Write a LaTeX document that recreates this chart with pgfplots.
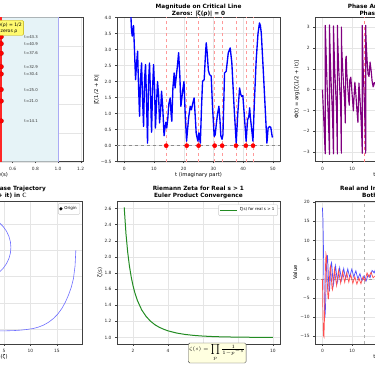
\documentclass[border=0pt]{standalone}
\usepackage{pgfplots}
\pgfplotsset{compat=1.18}
\usepackage{fontspec}
\setmainfont{DejaVu Sans}
\definecolor{mpurple}{RGB}{128,0,128}
\definecolor{mgreen}{RGB}{34,139,34}
\definecolor{stripc}{RGB}{230,243,247}
\definecolor{edgeblue}{RGB}{170,170,245}
\definecolor{spiral}{RGB}{110,110,255}
\definecolor{lblue}{RGB}{77,77,255}
\definecolor{lred}{RGB}{255,77,77}
\definecolor{boxyellow}{RGB}{255,250,110}
\definecolor{boxedge}{RGB}{190,170,0}
\definecolor{paleyellow}{RGB}{255,255,224}
\pgfplotsset{
 base/.style={
  scale only axis, width=163.5bp,
  axis line style={black!75, line width=0.45bp},
  every tick/.style={black!75, line width=0.4bp},
  tick align=outside, major tick length=1.8bp,
  xtick pos=left, ytick pos=left,
  grid=major, major grid style={black!10, line width=0.35bp},
  tick label style={font=\fontsize{4.4}{5.2}\selectfont, text=black!85},
  label style={font=\fontsize{5.3}{6.3}\selectfont},
  xlabel style={at={(axis description cs:0.5,0)}, anchor=center, yshift=-13.4bp},
 },
 toprow/.style={base, height=144.2bp},
 botrow/.style={base, height=143bp},
}
\tikzset{ttl/.style={font=\fontsize{5.8}{6.8}\selectfont\bfseries, inner sep=0pt}}
\begin{document}
\begin{tikzpicture}[x=1bp,y=1bp]
\path[use as bounding box] (0,0) rectangle (375,366);
\clip (0,0) rectangle (375,366);

% ---------------- top left ----------------
\begin{axis}[toprow, at={(-80.5bp,204.3bp)}, anchor=south west,
  xmin=-0.22, xmax=1.22, ymin=0, ymax=50,
  xtick={0,0.2,0.4,0.6,0.8,1.0,1.2}, xticklabels={0.0,0.2,0.4,0.6,0.8,1.0,1.2},
  ytick={0,10,20,30,40,50}, yticklabels={0,10,20,30,40,50},
  xlabel={Re(s)}, ylabel={Im(s)}]
\addplot[draw=none, fill=stripc] coordinates {(0.5,0) (1.0,0) (1.0,50) (0.5,50)} \closedcycle;
\addplot[edgeblue, line width=0.8bp] coordinates {(1.0,0) (1.0,50)};
\addplot[red!85, line width=2.4bp] coordinates {(0.5,0) (0.5,50)};
\addplot[only marks, mark=*, mark size=2.3bp, mark options={fill=red, draw=red!80!black, line width=0.3bp}]
 coordinates {(0.5,14.1347) (0.5,21.0220) (0.5,25.0109) (0.5,30.4249) (0.5,32.9351) (0.5,37.5862) (0.5,40.9187) (0.5,43.3271)};
\end{axis}
\begin{scope}[font=\fontsize{3.9}{4.6}\selectfont, text=black!80]
\node[anchor=west, inner sep=0] at (24.3, 366-121) {t=14.1};
\node[anchor=west, inner sep=0] at (24.3, 366-101) {t=21.0};
\node[anchor=west, inner sep=0] at (24.3, 366-90) {t=25.0};
\node[anchor=west, inner sep=0] at (24.3, 366-74) {t=30.4};
\node[anchor=west, inner sep=0] at (24.3, 366-66.7) {t=32.9};
\node[anchor=west, inner sep=0] at (24.3, 366-53.3) {t=37.6};
\node[anchor=west, inner sep=0] at (24.3, 366-44.3) {t=40.9};
\node[anchor=west, inner sep=0] at (24.3, 366-36.7) {t=43.3};
\end{scope}
\draw[fill=boxyellow, draw=boxedge, line width=0.4bp, rounded corners=1.2bp] (-40, 366-35.3) rectangle (23.6, 366-20.5);
\begin{scope}[font=\fontsize{4.6}{5.4}\selectfont]
\node[anchor=base east, inner sep=0] at (21.9, 366-26) {Critical line: Re(ρ) = 1/2};
\node[anchor=base east, inner sep=0] at (17.5, 366-32.7) {Non-trivial zeros ρ};
\end{scope}

% ---------------- top middle ----------------
\begin{axis}[toprow, at={(116.8bp,204.3bp)}, anchor=south west,
  xmin=-2.5, xmax=52.5, ymin=-0.5, ymax=4.0,
  xtick={0,10,20,30,40,50}, xticklabels={0,10,20,30,40,50},
  ytick={-0.5,0,0.5,1,1.5,2,2.5,3,3.5,4}, yticklabels={−0.5,0.0,0.5,1.0,1.5,2.0,2.5,3.0,3.5,4.0},
  xlabel={t (imaginary part)}, ylabel={|ζ(1/2 + it)|},
  ylabel style={at={(axis description cs:-0.122,0.5)}, anchor=center}]
\addplot[black!45, dashed, line width=0.6bp] coordinates {(-2.5,0) (52.5,0)};
\addplot[red!40, dashed, line width=0.5bp] coordinates {(14.1347,-0.5) (14.1347,4)};
\addplot[red!40, dashed, line width=0.5bp] coordinates {(21.0220,-0.5) (21.0220,4)};
\addplot[red!40, dashed, line width=0.5bp] coordinates {(25.0109,-0.5) (25.0109,4)};
\addplot[red!40, dashed, line width=0.5bp] coordinates {(30.4249,-0.5) (30.4249,4)};
\addplot[red!40, dashed, line width=0.5bp] coordinates {(32.9351,-0.5) (32.9351,4)};
\addplot[red!40, dashed, line width=0.5bp] coordinates {(37.5862,-0.5) (37.5862,4)};
\addplot[red!40, dashed, line width=0.5bp] coordinates {(40.9187,-0.5) (40.9187,4)};
\addplot[red!40, dashed, line width=0.5bp] coordinates {(43.3271,-0.5) (43.3271,4)};
\addplot[blue, line width=1.35bp, line join=round] coordinates {
(2.05,5.2) (2.25,4.05) (2.45,3.6) (2.69,3.42) (2.9,3.6) (3.13,3.75) (3.4,3.1) (3.81,2.06) (4.1,2.5)
(4.49,2.95) (4.8,1.9) (5.16,0.92) (5.5,2.1) (5.83,2.58) (6.15,1.5) (6.5,0.6) (6.85,2.1) (7.17,2.53) (7.5,1.4) (7.84,0.08)
(8.18,2.0) (8.5,2.58) (8.85,1.6) (9.19,0.42) (9.55,1.8) (9.86,2.53) (10.2,1.8) (10.5,0.55) (10.9,1.4) (11.2,2.0) (11.55,1.6)
(11.88,0.71) (12.25,1.1) (12.55,1.7) (12.95,1.2) (13.4,0.31) (13.7,0.55) (14.0,0.73) (14.3,0.55) (14.66,0.85) (15.0,1.3) (15.47,1.49)
(15.75,1.0) (16.0,0.76) (16.37,1.8) (16.8,2.27) (17.1,1.8) (17.5,2.16) (17.9,2.5) (18.3,2.9) (18.7,2.2)
(19.06,1.23) (19.4,1.5) (19.7,1.75) (20.1,2.0) (20.5,1.0) (20.97,0.14) (21.3,0.5) (21.7,0.9) (22.2,1.23) (22.6,1.12) (23.0,1.3) (23.5,1.49)
(23.9,0.9) (24.2,0.4) (24.5,0.25) (24.8,0.14) (25.1,0.4) (25.35,0.25) (25.6,0.08) (26.0,1.2) (26.35,2.01) (26.9,2.06) (27.3,2.8) (27.58,3.21)
(27.9,2.9) (28.3,2.35) (28.7,2.22) (29.26,2.17) (29.7,1.2) (30.27,0.29) (30.6,0.34) (31.0,0.7) (31.4,1.0) (31.85,1.23) (32.2,0.8) (32.5,0.31)
(32.9,0.2) (33.2,0.34) (33.75,2.27) (34.3,2.32) (35.0,2.9) (35.65,3.05) (36.2,2.58) (36.9,1.3) (37.67,0.08) (38.2,1.0) (38.8,1.8) (39.2,1.6)
(39.5,1.54) (39.9,1.56) (40.5,0.81) (41.0,0.14) (41.5,0.81) (41.9,0.9) (42.2,1.18) (42.4,0.92) (43.3,0.14) (43.8,1.4) (44.4,2.69) (45.0,3.5)
(45.5,3.83) (45.8,3.75) (46.1,3.52) (46.8,2.3) (47.4,1.2) (48.0,0.08) (48.4,0.55) (48.9,0.6) (49.3,0.57) (49.8,0.27) (50.0,0.29)};
\addplot[only marks, mark=*, mark size=2.1bp, red]
 coordinates {(14.1347,0) (21.0220,0) (25.0109,0) (30.4249,0) (32.9351,0) (37.5862,0) (40.9187,0) (43.3271,0)};
\end{axis}
\node[anchor=base, ttl] at (198.6, 358) {Magnitude on Critical Line};
\node[anchor=base, ttl] at (198.6, 350.5) {Zeros: |ζ(ρ)| = 0};

% ---------------- top right ----------------
\begin{axis}[toprow, at={(315bp,204.3bp)}, anchor=south west,
  xmin=-2.5, xmax=52.5, ymin=-3.456, ymax=3.456,
  xtick={0,10,20,30,40,50}, xticklabels={0,10,20,30,40,50},
  ytick={-3,-2,-1,0,1,2,3}, yticklabels={−3,−2,−1,0,1,2,3},
  xlabel={t (imaginary part)}, ylabel={Φ(t) = arg[ζ(1/2 + it)]},
  ylabel style={at={(axis description cs:-0.11,0.5)}, anchor=center}]
\addplot[red!50, dashed, line width=0.5bp] coordinates {(14.1347,-3.456) (14.1347,3.456)};
\addplot[mpurple, line width=1.15bp, line join=round] coordinates {
(0,0) (0.1705,-0.524) (0.341,-1.072) (0.5115,-1.629) (0.682,-2.202) (0.8525,-2.817) (0.935,-3.08) (0.945,3.08) (1.023,2.754) (1.1935,1.951)
(1.364,1.117) (1.5345,0.340) (1.705,-0.350) (1.8755,-0.989) (2.046,-1.630) (2.2165,-2.354) (2.357,-3.1) (2.367,3.1) (2.387,3.009) (2.5575,1.954)
(2.728,1.094) (2.8985,0.427) (3.069,-0.155) (3.2395,-0.721) (3.41,-1.337) (3.70,-3.08) (3.71,3.05) (3.751,2.854) (4.092,1.068) (4.433,0.003)
(4.774,-1.084) (5.03,-3.08) (5.04,3.08) (5.115,2.508) (5.456,1.037) (5.797,0.110) (6.138,-0.808) (6.365,-3.05) (6.375,3.0) (6.479,2.034)
(6.82,0.951) (7.161,0.127) (7.502,-0.645) (7.7,-1.6) (7.843,1.446) (8.0,1.6) (8.184,0.835) (8.525,0.097) (8.866,-0.56) (9.05,-0.75) (9.207,0.46)
(9.548,0.598) (9.889,-0.051) (10.23,-0.683) (10.4,-1.02) (10.571,-0.521) (10.912,0.354) (11.253,-0.244) (11.594,-0.970) (11.935,-1.571)
(12.276,0.313) (12.617,-0.415) (12.958,-1.316) (13.299,-2.50) (13.38,-3.05) (13.39,3.08) (13.64,1.267) (13.981,-0.108) (14.322,-1.625)
(14.545,-3.05) (14.555,3.08) (14.663,2.406) (15.004,1.442) (15.345,0.741) (15.686,0.631) (16.027,1.32) (16.368,0.932) (16.709,0.408)
(17.05,0.134) (17.391,0.328) (17.732,0.328) (18.073,-0.07) (18.414,-0.393)};
\end{axis}
\node[anchor=base west, ttl] at (347.7, 358) {Phase Angle Φ(t) on Critical Line};
\node[anchor=base west, ttl] at (359.3, 350.5) {Phase jumps at zeros};

% ---------------- bottom left ----------------
\begin{axis}[botrow, at={(-81bp,22bp)}, anchor=south west,
  xmin=-11.1, xmax=19.86, ymin=-17.8, ymax=9.3,
  xtick={-10,-5,0,5,10,15}, xticklabels={−10,−5,0,5,10,15},
  ytick={-15,-10,-5,0,5}, yticklabels={−15,−10,−5,0,5},
  xlabel={Re(ζ)}, ylabel={Im(ζ)},
  legend style={at={(0.985,0.985)}, anchor=north east, font=\fontsize{4.1}{4.8}\selectfont, draw=black!20, rounded corners=1bp, fill=white, inner sep=1.2bp, row sep=0bp},
  legend cell align=left]
\addplot[spiral, line width=0.6bp, forget plot] coordinates {
(18.6,0) (18.45,-3.0) (18.15,-5.37) (17.75,-7.0) (17.2,-8.54) (16.6,-9.9) (15.95,-11.07) (15.2,-12.1) (14.36,-12.97) (13.4,-13.7) (12.46,-14.23)
(11.5,-14.6) (10.56,-14.86) (9.3,-15.05) (8.04,-15.18) (6.8,-15.26) (5.5,-15.3) (4.2,-15.32) (3.0,-15.3) (1.5,-15.2)};
\addplot[spiral, line width=0.6bp, forget plot] coordinates {
(2.29,6.23) (3.25,5.78) (4.12,5.17) (4.87,4.42) (5.48,3.55) (5.93,2.59) (6.21,1.56) (6.3,0.5) (6.21,-0.56) (5.93,-1.59) (5.48,-2.55) (4.87,-3.42) (4.12,-4.17) (3.25,-4.78) (2.29,-5.23)};
\addplot[only marks, mark=*, mark size=1.4bp, black] coordinates {(0,0)};
\addlegendentry{Origin}
\end{axis}
\node[anchor=base east, ttl] at (46, 175.7) {Complex Phase Trajectory};
\node[anchor=base east, ttl] at (26.7, 168.3) {ζ(1/2 + it) in ℂ};

% ---------------- bottom middle ----------------
\begin{axis}[botrow, at={(116.8bp,22bp)}, anchor=south west,
  xmin=1.075, xmax=10.425, ymin=0.919, ymax=2.693,
  xtick={2,4,6,8,10}, xticklabels={2,4,6,8,10},
  ytick={1.0,1.2,1.4,1.6,1.8,2.0,2.2,2.4,2.6}, yticklabels={1.0,1.2,1.4,1.6,1.8,2.0,2.2,2.4,2.6},
  xlabel={s (real)}, ylabel={ζ(s)},
  ylabel style={at={(axis description cs:-0.102,0.5)}, anchor=center},
  legend style={at={(0.985,0.975)}, anchor=north east, font=\fontsize{4}{4.7}\selectfont, draw=black!20, rounded corners=1bp, fill=white, inner sep=1.2bp},
  legend cell align=left, legend image post style={line width=0.9bp}]
\addplot[mgreen, line width=1bp] coordinates {
(1.5,2.6124) (1.6,2.2854) (1.7,2.0543) (1.8,1.8822) (1.9,1.7497) (2.0,1.6449) (2.1,1.5602) (2.25,1.4602) (2.5,1.3415) (2.75,1.2615) (3.0,1.2021)
(3.25,1.1587) (3.5,1.1267) (3.75,1.1026) (4.0,1.0823) (4.5,1.0547) (5.0,1.0369) (5.5,1.0252) (6.0,1.0173) (6.5,1.0120) (7.0,1.0083) (8.0,1.0041)
(9.0,1.0020) (10.0,1.0010)};
\addlegendentry{ζ(s) for real s > 1}
\end{axis}
\node[anchor=base, ttl] at (198.4, 175.7) {Riemann Zeta for Real s > 1};
\node[anchor=base, ttl] at (198.4, 168.3) {Euler Product Convergence};
\node[draw=black!70, fill=paleyellow, rounded corners=1.5bp, line width=0.4bp, inner sep=0.8bp, minimum width=51bp, minimum height=20bp, font=\fontsize{5}{6}\selectfont]
 at (217.2, 13) {$\zeta(s) = \prod\limits_p \frac{1}{1 - p^{-s}}$};

% ---------------- bottom right ----------------
\begin{axis}[botrow, at={(315bp,22bp)}, anchor=south west,
  xmin=-2.5, xmax=52.5, ymin=-17.0, ymax=20.3,
  xtick={0,10,20,30,40,50}, xticklabels={0,10,20,30,40,50},
  ytick={-15,-10,-5,0,5,10,15,20}, yticklabels={−15,−10,−5,0,5,10,15,20},
  xlabel={t (imaginary part)}, ylabel={Value},
  ylabel style={at={(axis description cs:-0.122,0.5)}, anchor=center}]
\addplot[black!40, dashed, line width=0.5bp] coordinates {(-2.5,0) (52.5,0)};
\addplot[black!30, dashed, line width=0.5bp] coordinates {(14.1347,-17) (14.1347,20.3)};
\addplot[lblue, line width=0.7bp] coordinates {
(0,18.54) (0.1705,15.58) (0.341,8.03) (0.5115,-0.88) (0.682,-7.71) (0.8525,-10.09) (1.023,-7.69) (1.1935,-2.58) (1.364,2.82) (1.5345,6.07)
(1.705,6.05) (1.8755,3.33) (2.046,-0.31) (2.2165,-2.84) (2.387,-3.07) (2.5575,-1.14) (2.728,1.69) (2.8985,3.85) (3.069,4.26) (3.2395,2.90)
(3.41,0.69) (3.751,-1.49) (4.092,1.43) (4.433,3.37) (4.774,0.92) (5.115,-0.79) (5.456,1.33) (5.797,2.89) (6.138,1.08) (6.479,-0.30) (6.82,1.37)
(7.161,2.67) (7.502,1.21) (7.843,0.06) (8.184,1.43) (8.525,2.57) (8.866,1.39) (9.207,0.42) (9.548,1.57) (9.889,2.55) (10.23,1.45) (10.571,0.47)
(10.912,1.38) (11.253,2.09) (11.594,0.96) (11.935,0.0) (12.276,0.71) (12.617,1.34) (12.958,0.33) (13.299,-0.50) (13.64,0.16) (13.981,0.74)
(14.322,-0.03) (14.663,-0.63) (15.004,0.20) (15.345,1.05) (15.686,0.63) (16.027,0.31) (16.368,1.27) (16.709,2.2) (17.05,1.93) (17.391,1.53)
(17.732,2.23) (18.073,2.85) (18.414,2.27)};
\addplot[lred, line width=0.7bp] coordinates {
(0,0) (0.1705,-9.02) (0.341,-14.75) (0.5115,-15.13) (0.682,-10.54) (0.8525,-3.40) (1.023,3.14) (1.1935,6.45) (1.364,5.78) (1.5345,2.15)
(1.705,-2.21) (1.8755,-5.06) (2.046,-5.18) (2.2165,-2.85) (2.387,0.41) (2.5575,2.83) (2.728,3.27) (2.8985,1.75) (3.069,-0.67) (3.2395,-2.55)
(3.41,-2.90) (3.751,0.44) (4.092,2.60) (4.433,0.01) (4.774,-1.74) (5.115,0.58) (5.456,2.25) (5.797,0.32) (6.138,-1.13) (6.479,0.60) (6.82,1.92)
(7.161,0.34) (7.502,-0.91) (7.843,0.48) (8.184,1.58) (8.525,0.25) (8.866,-0.87) (9.207,0.21) (9.548,1.07) (9.889,-0.13) (10.23,-1.18)
(10.571,-0.27) (10.912,0.51) (11.253,-0.52) (11.594,-1.40) (11.935,-0.55) (12.276,0.23) (12.617,-0.59) (12.958,-1.27) (13.299,-0.37)
(13.64,0.51) (13.981,-0.08) (14.322,-0.55) (14.663,0.57) (15.004,1.55) (15.345,0.96) (15.686,0.46) (16.027,1.21) (16.368,1.71) (16.709,0.95)
(17.05,0.26) (17.391,0.52) (17.732,0.76) (18.073,-0.2) (18.414,-0.94)};
\end{axis}
\node[anchor=base west, ttl] at (340, 175.7) {Real and Imaginary Parts};
\node[anchor=base west, ttl] at (362, 168.3) {Both vanish at zeros};
\end{tikzpicture}
\end{document}
